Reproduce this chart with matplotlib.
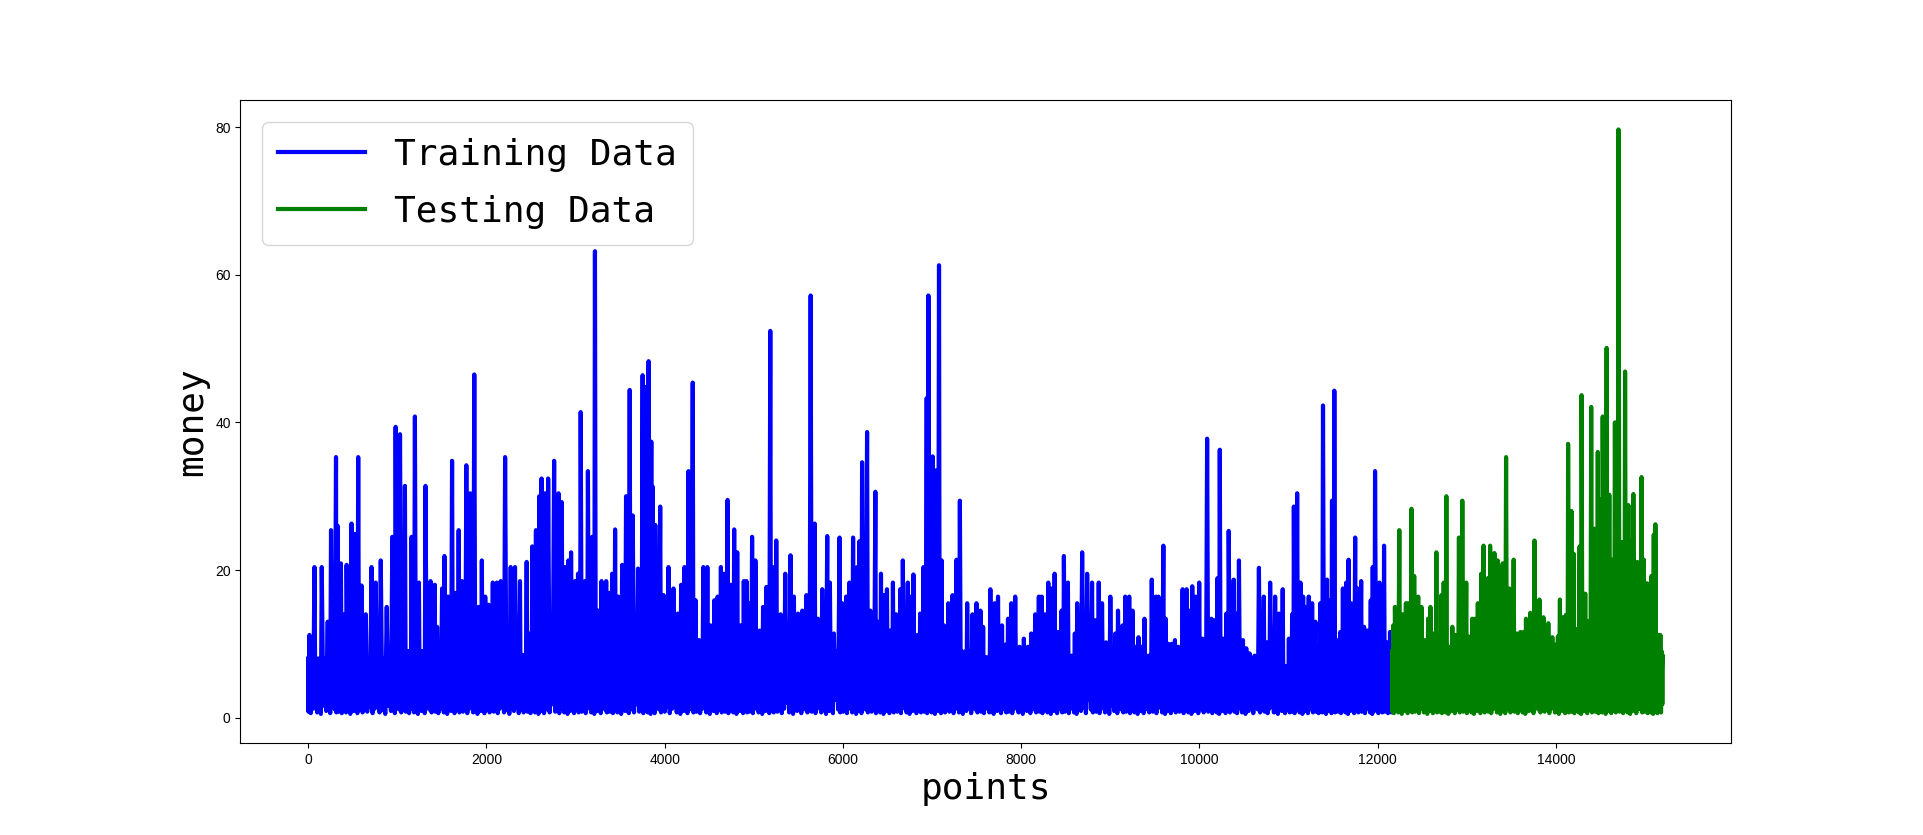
import numpy as np
import matplotlib
matplotlib.use("Agg")
import matplotlib.pyplot as plt

# spikes: (point index, money)
train_peaks = [
    (0, 8), (15, 11.2), (71, 20.4), (153, 20.4), (220, 13), (257, 25.4), (313, 35.3), (331, 26),
    (368, 20.9), (406, 14), (432, 20.7), (487, 26.3), (525, 24.9), (562, 35.3), (599, 17.9),
    (647, 14), (711, 20.4), (759, 18.3), (815, 21.3), (882, 15), (945, 24.5), (982, 39.4),
    (1031, 38.4), (1086, 31.4), (1161, 24.5), (1198, 40.8), (1243, 18.3), (1317, 31.4),
    (1373, 18.5), (1421, 18), (1447, 12.3), (1503, 17.5), (1529, 21.9), (1570, 16.4),
    (1615, 34.8), (1652, 16.9), (1689, 25.4), (1726, 18.5), (1775, 34.2), (1819, 30.4),
    (1864, 46.5), (1912, 15), (1949, 21.3), (1987, 16.4), (2024, 15.3), (2072, 18.3),
    (2117, 18.3), (2161, 18.5), (2210, 35.3), (2273, 20.4), (2321, 20.4), (2377, 18.5),
    (2407, 8.5), (2452, 21.1), (2489, 11.4), (2515, 23.2), (2556, 25.4), (2593, 30),
    (2619, 32.4), (2656, 30.4), (2693, 32.4),
    (2760, 34.8), (2809, 30.4), (2846, 29.2), (2883, 20.4), (2920, 21.3), (2950, 22.4),
    (2995, 18.5), (3028, 19.5), (3058, 41.4), (3106, 18.5), (3139, 33.4), (3188, 24.5),
    (3218, 63.2), (3255, 14.5), (3292, 18.5), (3344, 18.5), (3374, 16.9), (3411, 19.5),
    (3444, 25.5), (3478, 16.4), (3523, 20.7), (3567, 30), (3608, 44.4), (3642, 27.4),
    (3701, 20.2), (3753, 46.4), (3783, 44.8), (3820, 48.3), (3850, 37.4), (3865, 31.3),
    (3895, 26.1), (3950, 28.6), (3988, 16.6), (4043, 20.4), (4099, 17.5), (4148, 14.1),
    (4185, 18), (4222, 20.4), (4267, 33.4), (4315, 45.4), (4348, 15.9), (4386, 10.5),
    (4434, 20.4), (4479, 20.4), (4516, 12.5), (4557, 15.9), (4594, 16.4), (4631, 20.4),
    (4668, 19.5), (4706, 29.5), (4743, 18), (4780, 25.5), (4814, 22.4), (4854, 12.5),
    (4888, 18.5), (4918, 18.5), (4944, 15.5), (4981, 24.5), (5018, 21.3), (5066, 11.8),
    (5104, 15), (5141, 17.7), (5185, 52.4), (5215, 20.4), (5252, 24), (5301, 14),
    (5353, 19.5), (5412, 22), (5450, 16.4),
    (5497, 14.1), (5545, 14.5), (5590, 16.6), (5638, 57.2), (5683, 26.3), (5720, 13.4),
    (5768, 17.4), (5824, 24.6), (5854, 18.3), (5899, 11.4), (5962, 24.4), (5992, 15.5),
    (6036, 16.4), (6073, 18.3), (6114, 24.4), (6159, 20.4), (6185, 23.9), (6215, 34.6),
    (6271, 38.7), (6308, 14.5), (6364, 30.6), (6390, 13), (6427, 19.5), (6464, 16.6),
    (6494, 17.4), (6531, 11.8), (6561, 18.3), (6598, 14), (6643, 17.4), (6672, 21.3),
    (6728, 18.3), (6754, 16.4), (6791, 19.4), (6836, 11.2), (6866, 14.1), (6903, 20.4),
    (6940, 43.3), (6959, 57.2), (7007, 35.4), (7041, 33.5), (7078, 61.3), (7108, 21.3),
    (7134, 12.5), (7182, 15.5), (7230, 16.6), (7275, 21.4), (7312, 29.4), (7357, 8.7),
    (7394, 15.5), (7454, 14), (7498, 15.5), (7543, 14.5), (7573, 12.3), (7610, 8.2),
    (7654, 17.4), (7703, 15.5), (7740, 16.4), (7785, 12.5), (7826, 9.9), (7852, 13.4),
    (7889, 15.5), (7933, 16.4), (7982, 9.6), (8030, 10.7), (8075, 9.6), (8112, 11.4),
    (8157, 14), (8198, 16.4),
    (8230, 16.4), (8267, 14), (8304, 18.3), (8342, 17.5), (8375, 19.5), (8412, 11.6),
    (8453, 14.5), (8479, 21.9), (8524, 18.3), (8565, 8.4), (8602, 11.4), (8628, 15.5),
    (8684, 22.4), (8740, 19.5), (8795, 18.3), (8833, 13.2), (8870, 18.3), (8907, 15.5),
    (8952, 10.2), (9000, 16.4), (9056, 11.4), (9086, 14.5), (9138, 12.5), (9167, 16.4),
    (9212, 16.4), (9249, 14.5), (9279, 9.6), (9316, 10.9), (9346, 9.6), (9383, 13.4),
    (9428, 8.4), (9465, 18.7), (9510, 16.4), (9539, 16.4), (9595, 23.3), (9621, 13.4),
    (9651, 10), (9688, 10), (9725, 10.5), (9763, 9.6), (9811, 17.4), (9856, 17.4),
    (9882, 14.5), (9919, 17.8), (9956, 16.4), (9997, 18.3), (10034, 10.7), (10086, 37.8),
    (10135, 13.4), (10172, 13.2), (10202, 18.9), (10228, 36.3), (10265, 10.7), (10302, 14.1),
    (10328, 25.3), (10384, 18.7), (10414, 14.1), (10443, 21.3), (10488, 10.5), (10525, 9.4),
    (10562, 8.7), (10618, 8.4), (10667, 20.3), (10722, 16.4), (10756, 10.2), (10793, 18.3),
    (10849, 16.4), (10890, 14.1), (10934, 17.4),
    (11003, 10.7), (11040, 14), (11059, 28.6), (11096, 30.4), (11133, 18.3), (11163, 16.4),
    (11189, 15), (11226, 16.4), (11264, 15.5), (11301, 13), (11330, 9.6), (11356, 15.5),
    (11386, 42.3), (11431, 18.7), (11461, 15.9), (11487, 29.4), (11513, 44.3), (11550, 10.5),
    (11580, 11.6), (11609, 17.5), (11647, 18.3), (11673, 21.4), (11702, 15.5), (11747, 24.4),
    (11773, 17.5), (11814, 18.5), (11847, 12.3), (11885, 11.8), (11922, 15.9), (11944, 20.4),
    (11970, 33.4), (12019, 18.3), (12045, 11.8), (12071, 23.3), (12108, 10.2), (12138, 11.6),
    (12161, 4),
]

test_peaks = [
    (12162, 9), (12175, 12.5), (12193, 15), (12242, 25.4), (12279, 14), (12316, 15.5),
    (12342, 15.5), (12379, 28.3), (12409, 19.2), (12454, 16.4), (12491, 15), (12528, 10.5),
    (12565, 13.4), (12591, 15), (12629, 11.4), (12658, 22.4), (12688, 11.2), (12714, 16.6),
    (12740, 18.3), (12770, 30), (12800, 9.6), (12837, 12.3), (12874, 11.2), (12911, 24.4),
    (12949, 29.4), (12993, 18.3), (13023, 10.9), (13060, 13.4), (13086, 13.4), (13123, 15.5),
    (13161, 19.5), (13187, 23.3), (13235, 18.9), (13261, 23.3), (13309, 22.3), (13347, 21.3),
    (13384, 20.4), (13402, 20.9), (13440, 35.3), (13477, 17.5), (13525, 21.4), (13562, 11.4),
    (13600, 11.6), (13633, 11.6), (13663, 13.4),
    (13711, 14.2), (13759, 24.0), (13814, 16.0), (13859, 13.6), (13914, 12.8), (13959, 10.9),
    (13999, 9.9), (14044, 16.0), (14080, 13.6), (14110, 13.9), (14136, 37.1), (14173, 28.0),
    (14199, 22.2), (14228, 12.0), (14265, 23.2), (14287, 43.7), (14328, 16.8), (14358, 13.1),
    (14395, 42.1), (14432, 25.6), (14469, 36.0), (14498, 29.6), (14524, 40.8), (14568, 50.1),
    (14598, 30.2), (14627, 21.4), (14661, 40.0), (14701, 79.7), (14746, 23.8), (14775, 46.9),
    (14812, 28.8), (14838, 24.0), (14868, 30.3), (14912, 21.1), (14960, 32.6), (14986, 21.4),
    (15023, 18.2), (15049, 15.2), (15071, 19.2), (15097, 24.8), (15115, 26.2), (15145, 11.2),
    (15171, 11.2), (15200, 8.3),
]

# how high the dense band reaches, per 500 points
band_top = [8, 8, 9, 8, 8, 10, 10, 11, 9, 9, 9, 9, 10, 9, 9, 8,
            8, 8, 7, 8, 8, 7, 8, 8, 9, 9, 11, 9, 11, 16, 9]
# troughs along the bottom edge
troughs = [0.8, 1.5, 0.6, 1.2, 2.0, 0.7, 1.0, 0.5, 1.6, 0.9, 1.3, 0.6, 2.4, 1.1, 0.7, 1.8]

y_ticks = [0, 20, 40, 60, 80]


def build(peaks):
    # spike, then troughs and band level in between, so the band looks solid
    xs, ys = [], []
    k = 0
    for (xa, ya), (xb, yb) in zip(peaks[:-1], peaks[1:]):
        xs.append(xa)
        ys.append(ya)
        d = xb - xa
        m = max(1, int(round(d / 45.0)))
        lvl = band_top[int((xa + d / 2) // 500)]
        steps = 4 * m
        for j in range(1, steps):
            xs.append(xa + d * j / steps)
            if j % 2:
                ys.append(troughs[k % len(troughs)])
                k += 1
            else:
                ys.append(lvl)
    xs.append(peaks[-1][0])
    ys.append(peaks[-1][1])
    return xs, ys


tx, ty = build(train_peaks)
vx, vy = build(test_peaks)

fig = plt.figure(figsize=(19.23, 8.35), dpi=100)
ax = fig.add_subplot(111)
ax.plot(tx, ty, color='blue', linewidth=3, label='Training Data')
ax.plot(vx, vy, color='green', linewidth=3, label='Testing Data')

ax.set_yticks(y_ticks)
ax.set_xlabel('points', fontsize=26, family='DejaVu Sans Mono')
ax.set_ylabel('money', fontsize=26, family='DejaVu Sans Mono')
for lab in ax.get_xticklabels() + ax.get_yticklabels():
    lab.set_family('Liberation Sans')
    lab.set_fontsize(10)

ax.legend(loc='upper left', prop={'family': 'DejaVu Sans Mono', 'size': 26},
          handlelength=2.4, borderaxespad=0.6, labelspacing=0.62, borderpad=0.45)

fig.savefig('out.png', dpi=100)
